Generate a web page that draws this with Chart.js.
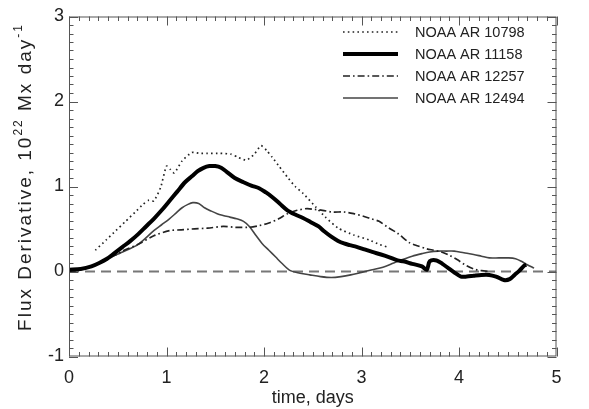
<!DOCTYPE html>
<html>
<head>
<meta charset="utf-8">
<script src="https://cdn.jsdelivr.net/npm/chart.js@4.4.1/dist/chart.umd.min.js"></script>
<style>
  html, body { margin: 0; padding: 0; background: #fff; }
  #caja { width: 589px; height: 409px; }
</style>
</head>
<body>
<div id="caja"><canvas id="grafica"></canvas></div>
<script>
// datos (tiempo en dias, derivada del flujo en 1e22 Mx/dia)
const t10798 = [0.27,0.38,0.48,0.58,0.68,0.76,0.82,0.87,0.94,1.0,1.04,1.08,1.16,1.26,1.34,1.42,1.55,1.66,1.74,1.82,1.90,1.97,2.03,2.08,2.16,2.24,2.32,2.40,2.53,2.63,2.76,2.92,3.08,3.18,3.26];
const f10798 = [0.25,0.37,0.48,0.59,0.70,0.79,0.84,0.83,0.99,1.24,1.20,1.16,1.30,1.40,1.39,1.39,1.39,1.38,1.34,1.31,1.38,1.48,1.42,1.35,1.23,1.11,1.00,0.92,0.76,0.64,0.51,0.43,0.37,0.32,0.29];

const t11158 = [0,0.12,0.23,0.31,0.39,0.47,0.55,0.63,0.71,0.79,0.87,0.95,1.03,1.11,1.19,1.26,1.32,1.38,1.44,1.5,1.56,1.62,1.70,1.79,1.87,1.95,2.02,2.08,2.16,2.24,2.32,2.40,2.48,2.56,2.62,2.69,2.76,2.82,2.88,2.95,3.03,3.11,3.2,3.28,3.37,3.43,3.52,3.62,3.67,3.70,3.77,3.83,3.89,3.95,4.02,4.08,4.15,4.23,4.31,4.38,4.46,4.52,4.57,4.62,4.67,4.69];
const f11158 = [0.02,0.03,0.06,0.10,0.15,0.22,0.29,0.36,0.44,0.53,0.62,0.72,0.83,0.94,1.05,1.12,1.18,1.22,1.24,1.24,1.22,1.17,1.10,1.05,1.01,0.98,0.93,0.88,0.80,0.72,0.67,0.63,0.58,0.53,0.47,0.41,0.36,0.33,0.31,0.29,0.26,0.23,0.20,0.17,0.13,0.12,0.09,0.06,0.02,0.12,0.13,0.09,0.04,-0.01,-0.06,-0.06,-0.05,-0.04,-0.04,-0.06,-0.10,-0.09,-0.04,0.01,0.07,0.08];

const t12257 = [0,0.12,0.23,0.39,0.55,0.71,0.87,1.03,1.15,1.26,1.42,1.58,1.71,1.85,1.95,2.05,2.15,2.24,2.34,2.44,2.52,2.60,2.70,2.82,2.92,3.02,3.10,3.18,3.27,3.37,3.49,3.58,3.66,3.74,3.82,3.90,3.98,4.06,4.15,4.23,4.32];
const f12257 = [0,0.02,0.06,0.14,0.24,0.32,0.42,0.48,0.49,0.50,0.51,0.53,0.52,0.52,0.54,0.57,0.62,0.68,0.72,0.74,0.73,0.72,0.70,0.70,0.68,0.65,0.62,0.59,0.52,0.45,0.34,0.30,0.27,0.25,0.23,0.19,0.14,0.08,0.03,0.01,0.0];

const t12494 = [0,0.12,0.23,0.39,0.55,0.71,0.87,0.95,1.03,1.10,1.16,1.22,1.27,1.33,1.39,1.46,1.52,1.58,1.65,1.72,1.79,1.85,1.92,1.98,2.05,2.12,2.18,2.27,2.37,2.47,2.58,2.69,2.79,2.89,3.0,3.11,3.22,3.33,3.42,3.52,3.62,3.70,3.79,3.87,3.95,4.05,4.15,4.23,4.31,4.41,4.51,4.58,4.64,4.70,4.77];
const f12494 = [0.01,0.03,0.06,0.15,0.23,0.32,0.48,0.55,0.62,0.69,0.75,0.79,0.81,0.80,0.75,0.71,0.68,0.66,0.64,0.62,0.59,0.53,0.42,0.33,0.25,0.17,0.10,0.01,-0.02,-0.04,-0.06,-0.07,-0.06,-0.04,-0.01,0.02,0.05,0.10,0.14,0.18,0.21,0.23,0.24,0.24,0.24,0.22,0.20,0.18,0.16,0.16,0.16,0.15,0.12,0.08,0.04];

// linea de referencia en cero
const tCero = [0, 5];
const fCero = [0, 0];

const etiquetas = ["NOAA AR 10798", "NOAA AR 11158", "NOAA AR 12257", "NOAA AR 12494"];
const ticksX = [0, 1, 2, 3, 4, 5];
const ticksY = [-1, 0, 1, 2, 3];

const fuente = "'Liberation Sans', Arial, Helvetica, sans-serif";

function puntos(xs, ys) {
  return xs.map((x, i) => ({ x: x, y: ys[i] }));
}

// caja con marcas hacia adentro en los cuatro lados (estilo IDL)
const marco = {
  id: "marco",
  afterDatasetsDraw(chart) {
    const c = chart.ctx;
    const a = chart.chartArea;
    const sx = chart.scales.x, sy = chart.scales.y;
    c.save();
    c.strokeStyle = "#555";
    c.lineWidth = 1;
    c.strokeRect(a.left + 0.5, a.top + 0.5, a.right - a.left - 1, a.bottom - a.top - 1);
    c.beginPath();
    for (let k = 0; k <= 50; k++) {
      const v = k / 10;
      const px = Math.round(sx.getPixelForValue(v)) + 0.5;
      const l = (k % 10 === 0) ? 9 : 4.5;
      c.moveTo(px, a.bottom); c.lineTo(px, a.bottom - l);
      c.moveTo(px, a.top); c.lineTo(px, a.top + l);
    }
    for (let k = -10; k <= 30; k++) {
      const v = k / 10;
      const py = Math.round(sy.getPixelForValue(v)) + 0.5;
      const l = (k % 10 === 0) ? 9 : 4.5;
      c.moveTo(a.left, py); c.lineTo(a.left + l, py);
      c.moveTo(a.right, py); c.lineTo(a.right - l, py);
    }
    c.stroke();

    // leyenda
    c.font = "14.5px " + fuente;
    c.textBaseline = "middle";
    c.fillStyle = "#222";
    chart.data.datasets.forEach((ds, i) => {
      if (!ds.label) return;
      const y = 32 + i * 22;
      c.save();
      c.strokeStyle = ds.borderColor;
      c.lineWidth = ds.borderWidth;
      c.setLineDash(ds.borderDash || []);
      c.beginPath();
      c.moveTo(343, y); c.lineTo(398, y);
      c.stroke();
      c.restore();
      c.fillText(ds.label, 415, y + 1);
    });

    // titulo del eje y con superindices
    c.translate(24, 177);
    c.rotate(-Math.PI / 2);
    if ("letterSpacing" in c) c.letterSpacing = "2px";
    const partes = [
      { t: "Flux Derivative, 10", f: 19, s: 0 },
      { t: "22", f: 12, s: -9 },
      { t: " Mx day", f: 19, s: 0 },
      { t: "-1", f: 12, s: -9 }
    ];
    let total = 0;
    partes.forEach(p => { c.font = p.f + "px " + fuente; p.w = c.measureText(p.t).width; total += p.w; });
    let x0 = -total / 2;
    c.textBaseline = "alphabetic";
    partes.forEach(p => {
      c.font = p.f + "px " + fuente;
      c.fillText(p.t, x0, 7 + p.s);
      x0 += p.w;
    });
    c.restore();
  }
};

const ctx = document.getElementById("grafica").getContext("2d");

const chart = new Chart(ctx, {
  type: "line",
  data: {
    datasets: [
      {
        label: etiquetas[0],
        data: puntos(t10798, f10798),
        borderColor: "#222",
        borderWidth: 1.7,
        borderDash: [1.6, 3.2],
        tension: 0.2
      },
      {
        label: etiquetas[1],
        data: puntos(t11158, f11158),
        borderColor: "#000",
        borderWidth: 4,
        tension: 0.3
      },
      {
        label: etiquetas[2],
        data: puntos(t12257, f12257),
        borderColor: "#222",
        borderWidth: 1.7,
        borderDash: [7, 3, 1.6, 3],
        tension: 0.3
      },
      {
        label: etiquetas[3],
        data: puntos(t12494, f12494),
        borderColor: "#444",
        borderWidth: 1.6,
        tension: 0.3
      },
      {
        label: "",
        data: puntos(tCero, fCero),
        borderColor: "#777",
        borderWidth: 2,
        borderDash: [10, 6],
        tension: 0
      }
    ]
  },
  options: {
    responsive: true,
    maintainAspectRatio: false,
    animation: false,
    devicePixelRatio: 1,
    elements: { point: { radius: 0 } },
    layout: { padding: { top: 16.5, right: 32.5, left: 0, bottom: 0 } },
    plugins: {
      legend: { display: false },
      tooltip: { enabled: false }
    },
    scales: {
      x: {
        type: "linear",
        min: 0,
        max: 5,
        afterFit: s => { s.height = 52.5; },
        afterBuildTicks: s => { s.ticks = ticksX.map(v => ({ value: v })); },
        ticks: { color: "#222", font: { family: fuente, size: 18 }, padding: 11, maxRotation: 0 },
        grid: { display: false, drawTicks: false },
        border: { display: false },
        title: { display: true, text: "time, days", color: "#222", font: { family: fuente, size: 18 }, padding: 0 }
      },
      y: {
        type: "linear",
        min: -1,
        max: 3,
        afterFit: s => { s.width = 69; },
        afterBuildTicks: s => { s.ticks = ticksY.map(v => ({ value: v })); },
        ticks: { color: "#222", font: { family: fuente, size: 18 }, padding: 5 },
        grid: { display: false, drawTicks: false },
        border: { display: false }
      }
    }
  },
  plugins: [marco]
});
</script>
</body>
</html>
